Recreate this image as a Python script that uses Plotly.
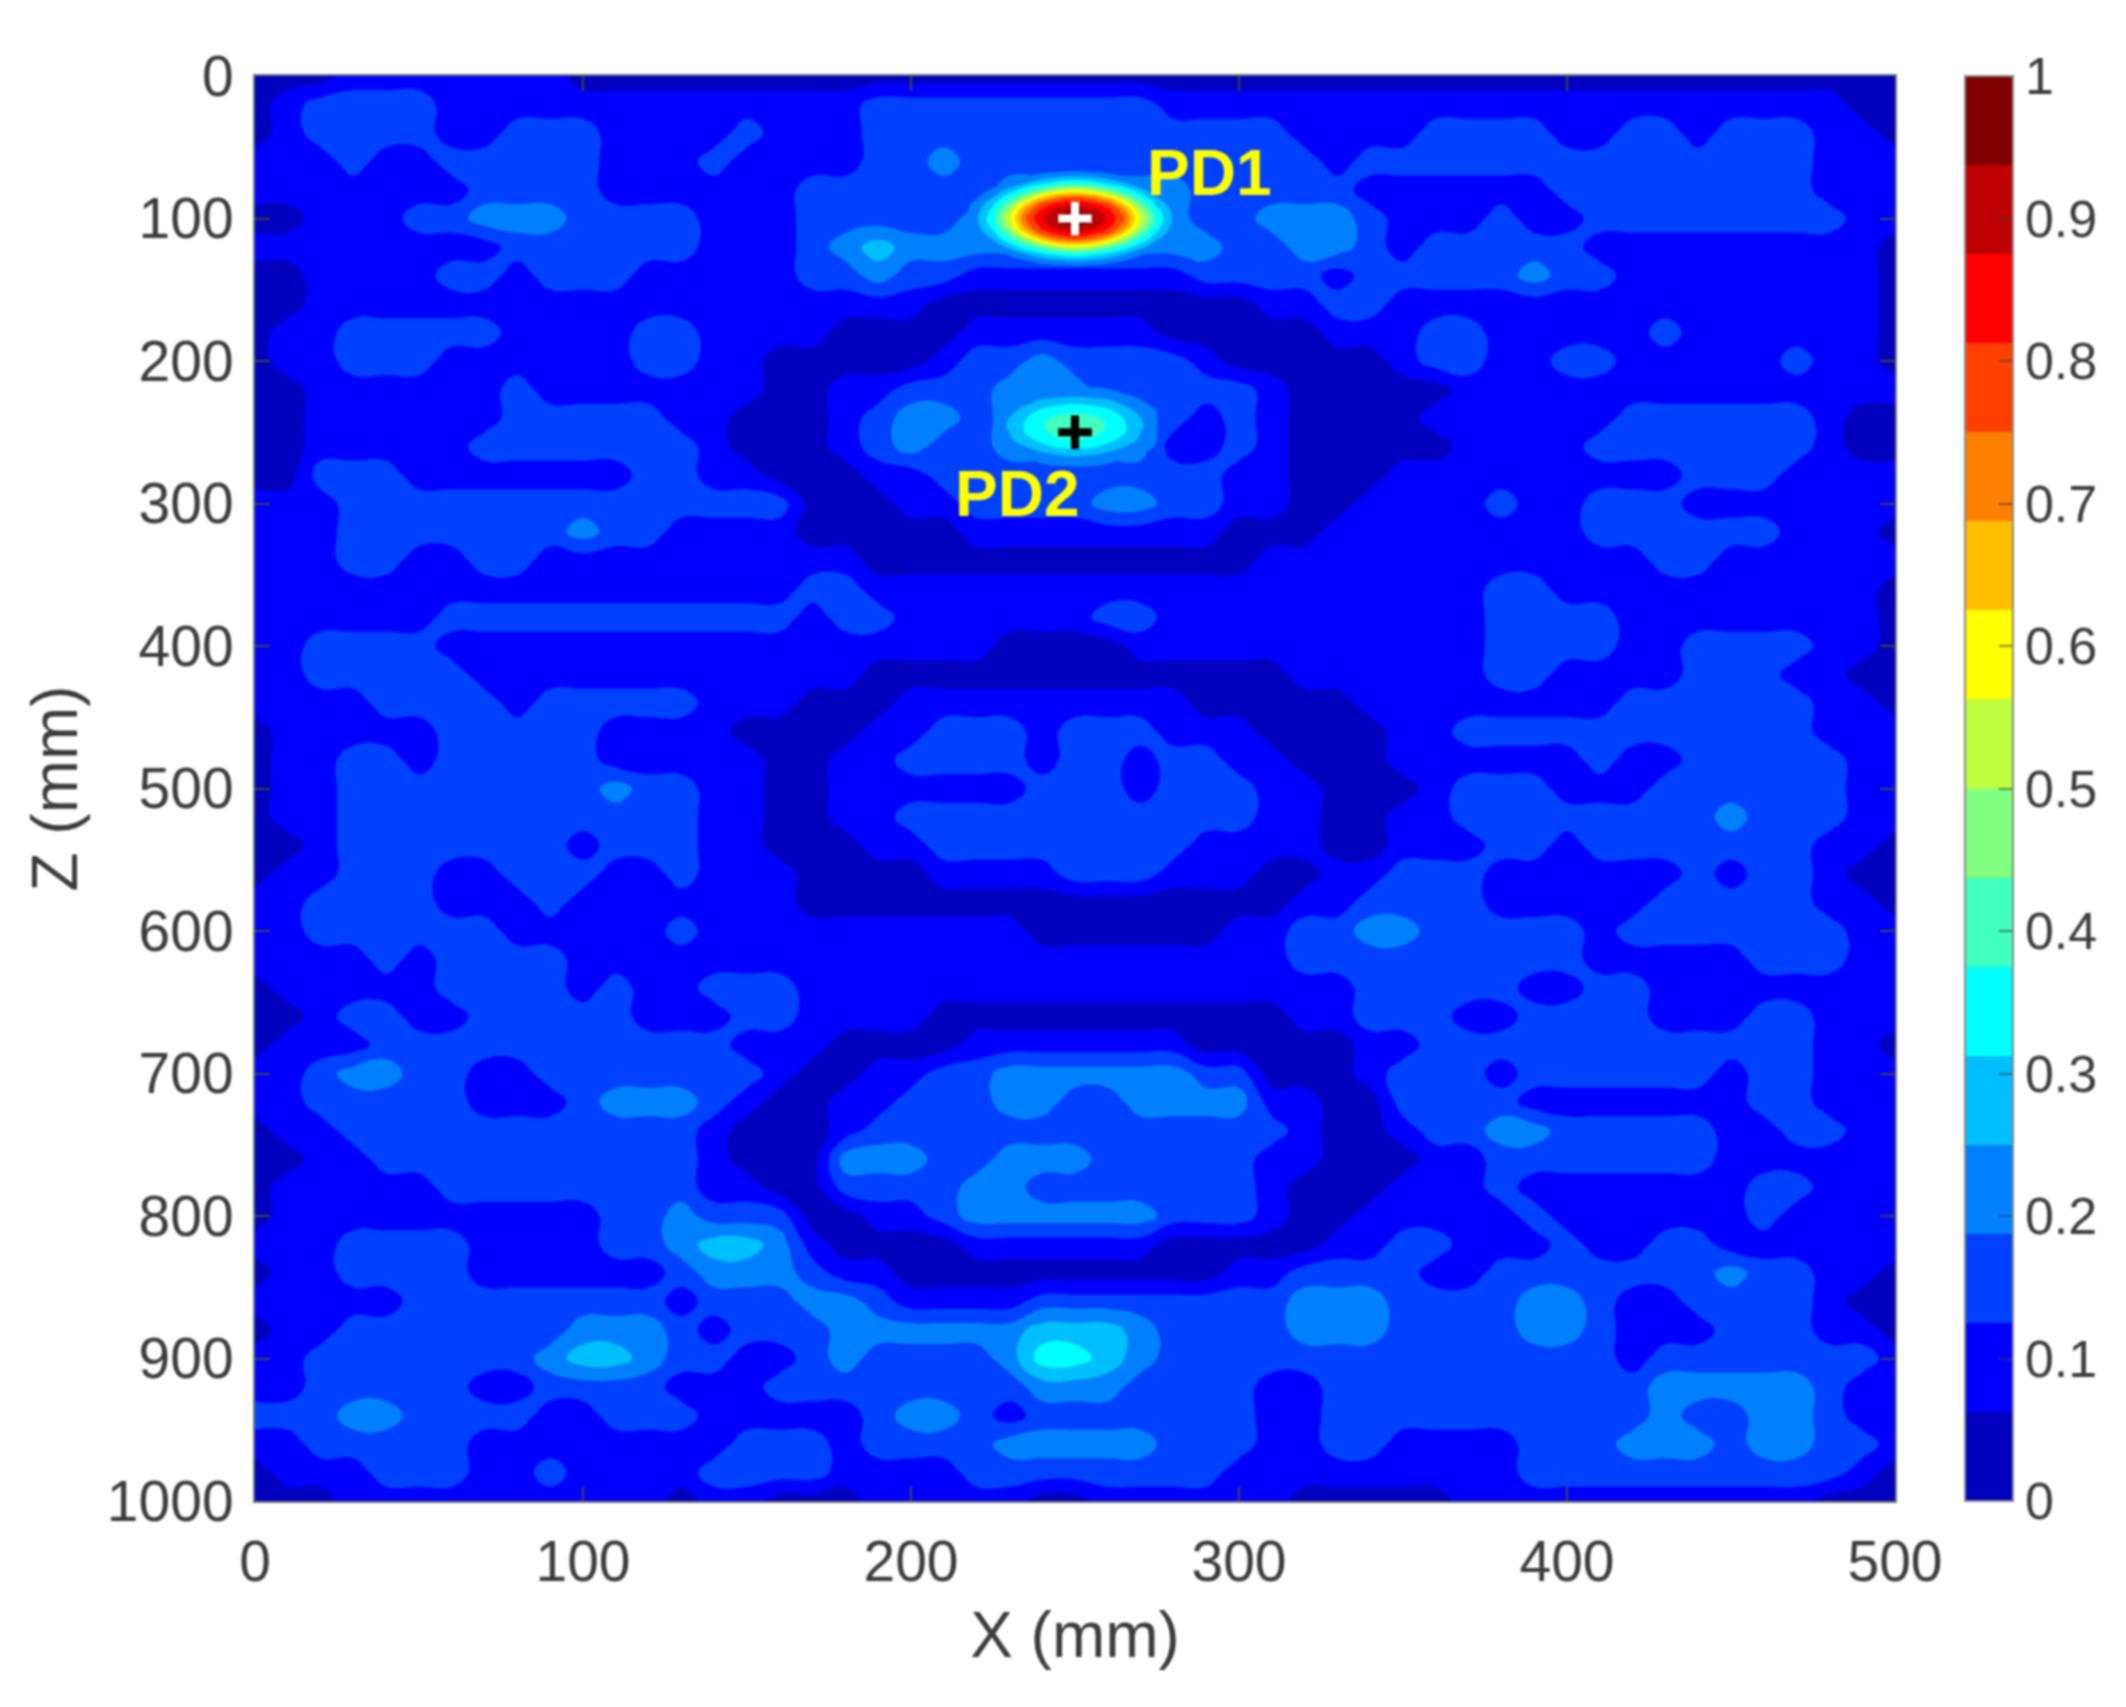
import plotly.graph_objects as go

# Colour band read at each grid node, one row per 20 mm of Z, one digit per 10 mm of X
band_rows = [
    "0001111111 0000000000 0000000000 0000000000 0000000000 0",
    "0122221111 1111111112 2222222211 1111111111 1111111110 0",
    "0122221122 2111121112 2222222222 2211112222 1122122211 0",
    "1112112222 2111211112 2322222222 2221222222 2222222211 1",
    "1111111222 2111111222 2223333332 2222111111 2222222211 1",
    "0011122333 2222111222 2233333332 2333211121 1222222221 1",
    "1111111122 2222111234 3333333333 2233212222 2111111111 0",
    "0011112212 2211111223 2211111112 2221222223 2211111111 0",
    "0011111111 1111111111 1000000000 0112211111 1111111111 0",
    "0112222211 1122111100 0011111100 0001112211 1112111111 0",
    "0112221111 1122110000 0122322221 0000012211 2211111211 0",
    "0011111121 1111110011 2223332222 2100000111 1111111111 1",
    "0011111122 2221100012 3323333321 2100001111 1122222210 0",
    "0011111222 2222100012 3223333311 2100000111 1222222210 0",
    "0022211111 1122110001 1222222222 1100011111 1111222111 1",
    "1112222222 2222222000 1122223322 1100111121 1222111111 1",
    "1112222222 3221111000 0011111111 0001111111 1222222111 0",
    "1112211221 1111111110 0000000000 0111111111 1112211111 1",
    "1111111111 1111111221 1111111111 1111111122 1111111111 0",
    "1111112222 2222222122 1111112211 1111111122 2211111111 0",
    "1122221111 1111111111 1110000111 1111111122 2211222211 0",
    "1122222111 1111111110 0000000000 0011111122 1111222110 0",
    "1111222212 2222111000 1111111110 0000111111 1122222211 0",
    "0111112222 2111100001 1222122211 1000011222 2222222211 1",
    "0112212222 2111110011 2222122122 1100011111 1211222221 1",
    "0112222222 2322110011 1111222122 2110001222 1112222221 1",
    "0112222222 2222110011 2222222222 2110011222 2222232221 1",
    "0012222222 1222110001 1222222221 1110011122 1222222211 0",
    "0112221122 2112111000 0111122211 1001122211 1111212210 0",
    "1122221112 1111111000 0000000000 0011222211 1112222211 0",
    "1122222211 1112111111 1111000000 1122332222 2122222221 1",
    "1111212222 1111111111 1111111111 1122222222 2111112221 1",
    "0111112222 1211222111 1111111111 1111222221 1221111111 1",
    "0012211222 2211122111 1000000000 0011222112 2221112211 1",
    "0111222222 2222211100 0011111110 0000112222 2222222211 0",
    "1123322112 2222221001 1223333332 2000122212 2222212211 1",
    "1122222111 2333210011 2223322333 3110022221 1111112211 1",
    "0112222222 2222100012 2222222222 2210012233 2222211221 1",
    "0011222222 2222100033 3223332222 2110001122 2222211111 1",
    "0111112222 2222110022 2233222222 2100011121 1111112211 1",
    "0111111111 1223222001 1233333322 2100111112 1111112111 1",
    "1112222111 1223443100 0011111100 0001122111 2112211111 1",
    "0112222111 1112333211 0000000000 1122221122 2222232211 0",
    "1111122222 2221222332 1111222222 2233322223 3211222210 0",
    "0112222222 3332122233 3333444322 2233322223 3211122211 0",
    "1122222223 4432211232 2223554322 2222222222 2212222222 1",
    "1122222112 2221112222 2222333222 2112222222 2223333321 1",
    "2223322221 1222111112 3321222222 2112222222 2223223321 1",
    "1122222111 1111122212 2223333322 2112211112 2233323322 1",
    "0111222112 1111222211 1122222222 1111111112 2222222221 0",
    "0001111111 1110110001 1111001111 1100000111 1111111100 0",
]
x_mm = list(range(0, 510, 10))
z_mm = list(range(0, 1020, 20))

# Finer readings around the two spots, in hundredths
pd1_x = list(range(215, 290, 5))
pd1_z = list(range(65, 140, 5))
pd1_values = [
    [9, 10, 11, 13, 14, 15, 15, 16, 15, 15, 14, 13, 11, 10, 9],
    [10, 10, 12, 15, 18, 21, 23, 24, 23, 21, 18, 15, 12, 10, 10],
    [11, 12, 15, 20, 25, 30, 34, 36, 34, 30, 25, 20, 15, 12, 11],
    [13, 15, 20, 27, 36, 44, 52, 55, 52, 44, 36, 27, 20, 15, 13],
    [14, 18, 25, 36, 48, 63, 72, 75, 72, 63, 48, 36, 25, 18, 14],
    [15, 21, 30, 44, 63, 78, 84, 87, 84, 78, 63, 44, 30, 21, 15],
    [15, 23, 34, 52, 72, 84, 92, 95, 92, 84, 72, 52, 34, 23, 15],
    [16, 24, 36, 55, 75, 87, 95, 100, 95, 87, 75, 55, 36, 24, 16],
    [15, 23, 34, 52, 72, 84, 92, 95, 92, 84, 72, 52, 34, 23, 15],
    [15, 21, 30, 44, 63, 78, 84, 87, 84, 78, 63, 44, 30, 21, 15],
    [14, 18, 25, 36, 48, 63, 72, 75, 72, 63, 48, 36, 25, 18, 14],
    [13, 15, 20, 27, 36, 44, 52, 55, 52, 44, 36, 27, 20, 15, 13],
    [11, 12, 15, 20, 25, 30, 34, 36, 34, 30, 25, 20, 15, 12, 11],
    [10, 10, 12, 15, 18, 21, 23, 24, 23, 21, 18, 15, 12, 10, 10],
    [9, 10, 11, 13, 14, 15, 15, 16, 15, 15, 14, 13, 11, 10, 9],
]
pd2_x = list(range(225, 280, 5))
pd2_z = list(range(215, 280, 5))
pd2_values = [
    [12, 13, 14, 15, 16, 16, 16, 15, 14, 13, 12],
    [13, 15, 17, 19, 20, 20, 20, 19, 17, 15, 13],
    [15, 18, 20, 23, 24, 25, 24, 23, 20, 18, 15],
    [17, 20, 24, 28, 30, 31, 30, 28, 24, 20, 17],
    [19, 23, 28, 33, 35, 36, 35, 33, 28, 23, 19],
    [20, 25, 31, 36, 39, 40, 39, 36, 31, 25, 20],
    [21, 26, 32, 37, 41, 42, 41, 37, 32, 26, 21],
    [21, 25, 32, 36, 40, 41, 40, 36, 32, 25, 21],
    [19, 24, 29, 34, 37, 38, 37, 34, 29, 24, 19],
    [18, 22, 25, 29, 33, 33, 33, 29, 25, 22, 18],
    [16, 19, 22, 24, 26, 27, 26, 24, 22, 19, 16],
    [14, 16, 18, 20, 21, 22, 21, 20, 18, 16, 14],
    [12, 14, 15, 17, 18, 18, 18, 17, 15, 14, 12],
]

band_colors = [
    "#0000bf", "#0000ff", "#0040ff", "#0080ff", "#00bfff", "#00ffff", "#40ffbf", "#80ff80",
    "#bfff40", "#ffff00", "#ffbf00", "#ff8000", "#ff4000", "#ff0000", "#bf0000", "#800000",
]
tick_vals = [0, 100, 200, 300, 400, 500]
z_ticks = [0, 100, 200, 300, 400, 500, 600, 700, 800, 900, 1000]
cbar_ticks = [0, 0.1, 0.2, 0.3, 0.4, 0.5, 0.6, 0.7, 0.8, 0.9, 1]
cbar_labels = ["0", "0.1", "0.2", "0.3", "0.4", "0.5", "0.6", "0.7", "0.8", "0.9", "1"]

FONT = "Liberation Sans"
TEXT = "#3c3c3c"
BAND_WIDTH = 1 / len(band_colors)


def stepped_scale(colors):
    scale = []
    for k, color in enumerate(colors):
        scale.append([k * BAND_WIDTH, color])
        scale.append([(k + 1) * BAND_WIDTH, color])
    return scale


def decode_rows(rows):
    grid = []
    for i, row in enumerate(rows):
        digits = row.replace(" ", "")
        assert len(digits) == len(x_mm), (i, len(digits))
        grid.append([(int(d) + 0.5) * BAND_WIDTH for d in digits])
    return grid


contour_levels = dict(coloring="fill", start=0, end=1, size=BAND_WIDTH, showlines=False)
fig = go.Figure()

fig.add_trace(go.Contour(
    x=x_mm, y=z_mm, z=decode_rows(band_rows),
    zmin=0, zmax=1, autocontour=False,
    contours=contour_levels,
    line=dict(width=0, smoothing=1.3),
    colorscale=stepped_scale(band_colors),
    colorbar=dict(
        thickness=48, thicknessmode="pixels",
        len=1, lenmode="fraction", x=1.0427, xanchor="left", xpad=0,
        y=0.5, yanchor="middle", ypad=0,
        tickmode="array", tickvals=cbar_ticks, ticktext=cbar_labels,
        ticks="inside", ticklen=15, tickwidth=2, tickcolor="rgba(60,60,60,0.6)",
        tickfont=dict(family=FONT, size=52, color=TEXT),
        outlinewidth=2, outlinecolor="#8a8a8a",
    ),
))

# Spots drawn over the base map, only their upper bands are painted
spot_colors = ["rgba(0,0,0,0)"] * 3 + band_colors[3:]
for sx, sz, values in [(pd1_x, pd1_z, pd1_values), (pd2_x, pd2_z, pd2_values)]:
    fig.add_trace(go.Contour(
        x=sx, y=sz, z=[[v / 100 for v in row] for row in values],
        zmin=0, zmax=1, autocontour=False,
        contours=contour_levels,
        line=dict(width=0, smoothing=1.3),
        colorscale=stepped_scale(spot_colors),
        showscale=False, hoverinfo="skip",
    ))

for px, pz, color in [(250, 100, "white"), (250, 250, "black")]:
    fig.add_trace(go.Scatter(
        x=[px], y=[pz], mode="markers", showlegend=False,
        marker=dict(symbol="cross-thin", size=24, line=dict(width=8, color=color)),
    ))

for label, lx, lz in [("PD1", 291, 68), ("PD2", 232.5, 293)]:
    fig.add_annotation(
        x=lx, y=lz, text=f"<b>{label}</b>", showarrow=False,
        font=dict(family=FONT, size=64, color="#ffff00"),
    )

axis_style = dict(
    showgrid=False, zeroline=False, showline=True, mirror="ticks",
    linecolor="#777777", linewidth=2,
    ticks="inside", ticklen=15, tickwidth=2, tickcolor="#444444",
    tickfont=dict(family=FONT, size=57, color=TEXT),
)
fig.update_xaxes(
    range=[0, 500], tickvals=tick_vals, ticklabelstandoff=10,
    title=dict(text="X (mm)", font=dict(family=FONT, size=64, color=TEXT), standoff=20),
    **axis_style,
)
fig.update_yaxes(
    range=[1000, 0], tickvals=z_ticks, ticklabelstandoff=8,
    title=dict(text="Z (mm)", font=dict(family=FONT, size=64, color=TEXT), standoff=8),
    **axis_style,
)
fig.update_layout(
    width=2126, height=1707,
    margin=dict(l=255, r=231, t=76, b=206),
    paper_bgcolor="white", plot_bgcolor="white",
    showlegend=False,
)

# The reference is a soft upscaled image, so the page gets a slight blur as well
fig.write_html(
    "out.html",
    config={"displayModeBar": False},
    post_script=(
        "document.body.style.margin='0';"
        "document.querySelectorAll('.main-svg').forEach(function(s){s.style.filter='blur(1.2px)';});"
    ),
)
